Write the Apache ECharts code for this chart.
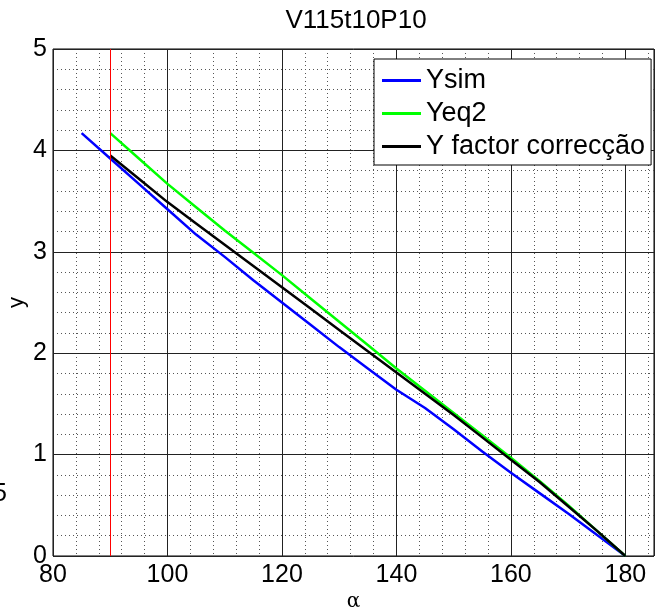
<!DOCTYPE html>
<html>
<head>
<meta charset="utf-8">
<script src="https://cdn.jsdelivr.net/npm/echarts@6/dist/echarts.min.js"></script>
<style>
  html, body { margin: 0; padding: 0; background: #fff; }
  #chart { width: 655px; height: 611px; }
</style>
</head>
<body>
<div id="chart"></div>
<script>
// Angle samples (degrees) and the three y curves
const alphaSim = [85, 90, 95, 100, 105, 110, 115, 120, 125, 130, 135, 140, 145, 150, 155, 160, 165, 170, 175, 180];
const ySim     = [4.17, 3.92, 3.67, 3.42, 3.17, 2.95, 2.72, 2.50, 2.28, 2.06, 1.85, 1.64, 1.46, 1.25, 1.03, 0.82, 0.62, 0.42, 0.21, 0];

const alphaEq  = [90, 95, 100, 105, 110, 115, 120, 125, 130, 135, 140, 145, 150, 155, 160, 165, 170, 175, 180];
const yEq2     = [4.17, 3.92, 3.67, 3.44, 3.21, 2.99, 2.77, 2.54, 2.31, 2.08, 1.85, 1.63, 1.41, 1.19, 0.97, 0.74, 0.50, 0.25, 0];
const yFactor  = [3.95, 3.72, 3.49, 3.28, 3.07, 2.86, 2.65, 2.44, 2.23, 2.02, 1.81, 1.60, 1.39, 1.17, 0.95, 0.73, 0.49, 0.25, 0];

const seriesNames = ['Ysim', 'Yeq2', 'Y factor correcção'];
const refAlpha = 90;

const pairs = (xs, ys) => xs.map((x, i) => [x, ys[i]]);

const font = 'Liberation Sans, Arial, sans-serif';
const chart = echarts.init(document.getElementById('chart'), null, { renderer: 'canvas' });

chart.setOption({
  animation: false,
  backgroundColor: '#fff',
  title: {
    text: 'V115t10P10',
    left: 351, top: 3, textAlign: 'center',
    textStyle: { fontFamily: font, fontSize: 26, fontWeight: 'normal', color: '#000' }
  },
  grid: {
    left: 53, right: 1, top: 49, bottom: 55,
    containLabel: false, outerBoundsMode: 'none',
    show: true, borderColor: '#000', borderWidth: 1, backgroundColor: 'transparent'
  },
  legend: {
    data: seriesNames,
    orient: 'vertical',
    left: 374, top: 59,
    backgroundColor: '#fff',
    borderColor: '#000', borderWidth: 1, borderRadius: 0,
    padding: [8, 6, 5, 8],
    itemWidth: 39, itemHeight: 3, itemGap: 6, itemTextGap: 4,
    icon: 'rect',
    textStyle: { fontFamily: font, fontSize: 27, color: '#000', lineHeight: 27 }
  },
  graphic: [{
    type: 'text', left: -7, top: 482,
    style: { text: '5', font: '25px ' + font, fill: '#000' }
  }],
  xAxis: [{
    type: 'value', min: 80, max: 185, interval: 20,
    name: 'α', nameLocation: 'middle', nameGap: 36, nameMoveOverlap: false,
    nameTextStyle: { fontFamily: 'DejaVu Serif, serif', fontSize: 20, color: '#000' },
    axisLine: { show: false },
    axisTick: { show: false },
    axisLabel: {
      margin: 7, color: '#000', fontFamily: font, fontSize: 25,
      formatter: v => (v % 20 === 0 ? String(v) : '')
    },
    splitLine: { show: true, lineStyle: { color: '#222', width: 1, type: 'solid' } }
  }, {
    // fine dotted grid every 4 degrees
    type: 'value', min: 80, max: 185, interval: 4, show: true, z: -1,
    axisLine: { show: false }, axisTick: { show: false }, axisLabel: { show: false },
    splitLine: { show: true, lineStyle: { color: '#555', width: 1, type: [1, 3] } }
  }],
  yAxis: {
    type: 'value', min: 0, max: 5, interval: 1,
    name: 'y', nameLocation: 'middle', nameGap: 25, nameMoveOverlap: false,
    nameTextStyle: { fontFamily: font, fontSize: 22, color: '#000' },
    axisLine: { show: false },
    axisTick: { show: false },
    axisLabel: { margin: 6, color: '#000', fontFamily: font, fontSize: 25 },
    splitLine: { show: true, lineStyle: { color: '#222', width: 1, type: 'solid' } },
    minorTick: { show: false, splitNumber: 5 },
    minorSplitLine: { show: true, lineStyle: { color: '#555', width: 1, type: [1, 3] } }
  },
  series: [{
    name: 'Ysim', type: 'line', data: pairs(alphaSim, ySim),
    showSymbol: false, symbol: 'none', z: 3,
    itemStyle: { color: '#0000ff' },
    lineStyle: { color: '#0000ff', width: 2.5 }
  }, {
    name: 'Yeq2', type: 'line', data: pairs(alphaEq, yEq2),
    showSymbol: false, symbol: 'none', z: 3,
    itemStyle: { color: '#00ff00' },
    lineStyle: { color: '#00ff00', width: 2.5 }
  }, {
    name: 'Y factor correcção', type: 'line', data: pairs(alphaEq, yFactor),
    showSymbol: false, symbol: 'none', z: 4,
    itemStyle: { color: '#000' },
    lineStyle: { color: '#000', width: 2.5 },
    markLine: {
      silent: true, symbol: 'none', animation: false,
      label: { show: false },
      lineStyle: { color: '#ff0000', width: 1, type: 'solid' },
      data: [{ xAxis: refAlpha }]
    }
  }]
});
</script>
</body>
</html>
